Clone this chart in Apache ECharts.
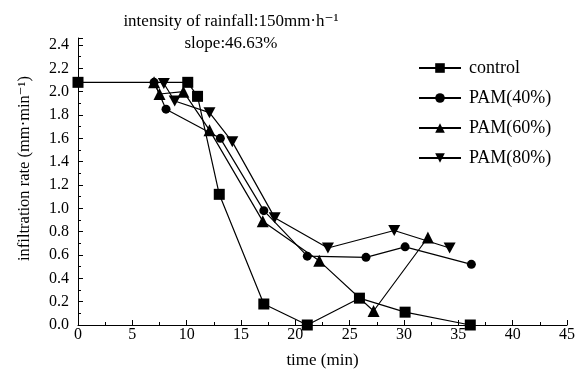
<!DOCTYPE html>
<html><head><meta charset="utf-8">
<script src="https://cdn.jsdelivr.net/npm/echarts@6/dist/echarts.min.js"></script>
<style>html,body{margin:0;padding:0;background:#fff}#c{width:578px;height:374px}</style>
</head><body><div id="c"></div>
<script>
const seriesNames = ['control', 'PAM(40%)', 'PAM(60%)', 'PAM(80%)'];
const controlData = [[0,2.08],[10.1,2.08],[11,1.96],[13,1.12],[17.1,0.18],[21.1,0.0],[25.9,0.23],[30.1,0.11],[36.1,0.0]];
const pam40Data = [[7,2.08],[8.1,1.85],[13.1,1.60],[17.1,0.98],[21.1,0.59],[26.5,0.58],[30.1,0.67],[36.2,0.52]];
const pam60Data = [[7,2.08],[7.5,1.98],[9.7,2.0],[12.1,1.67],[17.0,0.89],[22.2,0.55],[27.2,0.12],[32.2,0.75]];
const pam80Data = [[7.9,2.07],[8.9,1.92],[12.1,1.82],[14.2,1.57],[18.1,0.92],[23.0,0.66],[29.1,0.81],[34.2,0.66]];
const titleLines = ['intensity of rainfall:150mm·h⁻¹', 'slope:46.63%'];
const xName = 'time (min)';
const yName = 'infiltration rate (mm·min⁻¹)';

const font = '"Liberation Serif", "DejaVu Serif", serif';
const chart = echarts.init(document.getElementById('c'));
const downTri = 'path://M0,0 L10,0 L5,9 Z';
function mk(name, data, symbol, size) {
  return {
    name, type: 'line', data, symbol, symbolSize: size,
    showAllSymbol: true,
    lineStyle: { color: '#000', width: 1.2 },
    itemStyle: { color: '#000' },
    animation: false
  };
}
chart.setOption({
  animation: false,
  title: [
    { text: titleLines[0], left: 226, top: 8, textAlign: 'center',
      textStyle: { fontFamily: font, fontSize: 17, fontWeight: 'normal', color: '#000' } },
    { text: titleLines[1], left: 226, top: 30, textAlign: 'center',
      textStyle: { fontFamily: font, fontSize: 17, fontWeight: 'normal', color: '#000' } }
  ],
  legend: {
    orient: 'vertical', left: 413, top: 54, itemGap: 12, itemWidth: 42, itemHeight: 12,
    data: seriesNames,
    textStyle: { fontFamily: font, fontSize: 18, color: '#000', padding: [0, 0, 0, 3] }
  },
  grid: { left: 78, right: 10, top: 38, bottom: 48 },
  xAxis: {
    type: 'value', min: 0, max: 45, interval: 5,
    name: xName, nameLocation: 'middle', nameGap: 27,
    nameTextStyle: { fontFamily: font, fontSize: 17, color: '#000' },
    axisLine: { lineStyle: { color: '#000', width: 1 } },
    axisTick: { inside: true, length: 5, lineStyle: { color: '#000' } },
    minorTick: { show: true, splitNumber: 2, length: 3, lineStyle: { color: '#000' } },
    axisLabel: { fontFamily: font, fontSize: 16, color: '#000', margin: 2 },
    splitLine: { show: false }
  },
  yAxis: {
    type: 'value', min: 0, max: 2.46, interval: 0.2,
    name: yName, nameLocation: 'middle', nameGap: 45,
    nameTextStyle: { fontFamily: font, fontSize: 16.5, color: '#000', padding: [0, 0, 0, 26] },
    axisLine: { show: true, lineStyle: { color: '#000', width: 1 } },
    axisTick: { show: true, inside: true, length: 5, lineStyle: { color: '#000' } },
    minorTick: { show: true, splitNumber: 2, length: 3, lineStyle: { color: '#000' } },
    axisLabel: { fontFamily: font, fontSize: 16, color: '#000', margin: 9, showMaxLabel: false,
      formatter: v => v.toFixed(1) },
    splitLine: { show: false }
  },
  series: [
    mk(seriesNames[0], controlData, 'rect', 11),
    mk(seriesNames[1], pam40Data, 'circle', 9),
    mk(seriesNames[2], pam60Data, 'triangle', 12),
    mk(seriesNames[3], pam80Data, downTri, [12, 11])
  ]
});
</script></body></html>
